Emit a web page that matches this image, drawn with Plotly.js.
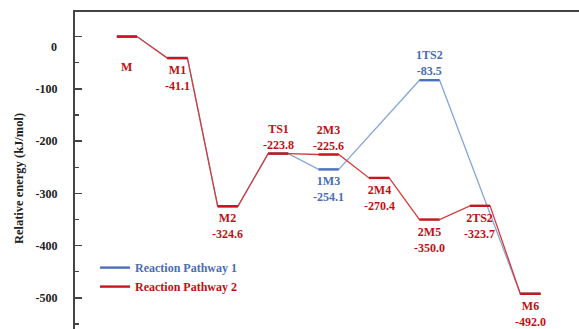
<!DOCTYPE html>
<html>
<head>
<meta charset="utf-8">
<script src="https://cdn.plot.ly/plotly-3.0.1.min.js"></script>
<style>
  html, body { margin: 0; padding: 0; overflow: hidden; background: #fff; }
  #chart { width: 640px; height: 375px; }
</style>
</head>
<body>
<div id="chart"></div>
<script>
// Energy profile of the two reaction pathways (kJ/mol)
const path1Names  = ['M', 'M1', 'M2', 'TS1', '1M3', '1TS2', 'M6'];
const path1Steps  = [0, 1, 2, 3, 4, 6, 8];
const path1Energy = [0, -41.1, -324.6, -223.8, -254.1, -83.5, -492.0];

const path2Names  = ['M', 'M1', 'M2', 'TS1', '2M3', '2M4', '2M5', '2TS2', 'M6'];
const path2Steps  = [0, 1, 2, 3, 4, 5, 6, 7, 8];
const path2Energy = [0, -41.1, -324.6, -223.8, -225.6, -270.4, -350.0, -323.7, -492.0];

const seriesNames = ['Reaction Pathway 1', 'Reaction Pathway 2'];
const yTicks = [0, -100, -200, -300, -400, -500];

// which species get a text label, and where it sits relative to the level
const path1Labels = { '1M3': 'below', '1TS2': 'above' };
const path2Labels = { 'M': 'below', 'M1': 'below', 'M2': 'below', 'TS1': 'above',
                      '2M3': 'above', '2M4': 'below', '2M5': 'below', '2TS2': 'below', 'M6': 'below' };

const HALF = 0.2;              // half width of an energy level
const FONT = 'Liberation Serif, Times New Roman, serif';
const RED = '#c8161c', RED_TEXT = '#c00f14', RED_LINK = '#d43a3a';
const BLUE = '#4a70bf', BLUE_TEXT = '#4a6cb6', BLUE_LINK = '#86a6d6';

function links(steps, energy) {
  const x = [], y = [];
  steps.forEach((s, i) => { x.push(s - HALF, s + HALF); y.push(energy[i], energy[i]); });
  return { x, y };
}
function levels(steps, energy) {
  const x = [], y = [];
  steps.forEach((s, i) => { x.push(s - HALF, s + HALF, null); y.push(energy[i], energy[i], null); });
  return { x, y };
}

const l1 = links(path1Steps, path1Energy), v1 = levels(path1Steps, path1Energy);
const l2 = links(path2Steps, path2Energy), v2 = levels(path2Steps, path2Energy);

const traces = [
  { x: l1.x, y: l1.y, mode: 'lines', line: { color: BLUE_LINK, width: 1.3 },
    legendgroup: 'p1', showlegend: false, hoverinfo: 'skip' },
  { x: v1.x, y: v1.y, mode: 'lines', line: { color: BLUE, width: 2.4 },
    legendgroup: 'p1', connectgaps: false,
    name: '<span style="color:' + BLUE_TEXT + '">' + seriesNames[0] + '</span>' },
  { x: l2.x, y: l2.y, mode: 'lines', line: { color: RED_LINK, width: 1.3 },
    legendgroup: 'p2', showlegend: false, hoverinfo: 'skip' },
  { x: v2.x, y: v2.y, mode: 'lines', line: { color: RED, width: 2.4 },
    legendgroup: 'p2', connectgaps: false,
    name: '<span style="color:' + RED_TEXT + '">' + seriesNames[1] + '</span>' }
];

const annotations = [];
function addLabels(names, steps, energy, placement, color) {
  names.forEach((n, i) => {
    const side = placement[n];
    if (!side) return;
    const text = energy[i] === 0 ? n : n + '<br>' + energy[i].toFixed(1);
    annotations.push({
      x: steps[i], y: energy[i], xref: 'x', yref: 'y', text: text,
      showarrow: false, xanchor: 'center',
      yanchor: side === 'above' ? 'bottom' : 'top',
      yshift: side === 'above' ? 0 : (energy[i] === 0 ? -21 : -3),
      font: { family: FONT, size: 12, color: color, weight: 'bold' }
    });
  });
}
addLabels(path1Names, path1Steps, path1Energy, path1Labels, BLUE_TEXT);
addLabels(path2Names, path2Steps, path2Energy, path2Labels, RED_TEXT);

// the zero tick label sits a little below its tick
annotations.push({
  x: 0, y: 0, xref: 'paper', yref: 'y', text: String(yTicks[0]), showarrow: false,
  xanchor: 'right', yanchor: 'middle', xshift: -16, yshift: -10,
  font: { family: FONT, size: 12, color: '#222', weight: 'bold' }
});

const layout = {
  width: 640, height: 375,
  margin: { l: 75, r: 39, t: 12, b: 30 },
  paper_bgcolor: '#fff', plot_bgcolor: '#fff',
  font: { family: FONT, size: 12, color: '#222', weight: 'bold' },
  showlegend: true,
  legend: {
    x: 0.038, y: 0.276, xanchor: 'left', yanchor: 'top',
    bgcolor: 'rgba(0,0,0,0)', borderwidth: 0,
    font: { family: FONT, size: 12, weight: 'bold' },
    tracegroupgap: 0
  },
  xaxis: {
    range: [-1.03, 9.4], showgrid: false, zeroline: false,
    showticklabels: false, ticks: '',
    showline: true, mirror: true, linecolor: '#444', linewidth: 2
  },
  yaxis: {
    range: [-590, 47], showgrid: false, zeroline: false,
    tickvals: yTicks, ticktext: yTicks.map(v => v === 0 ? '' : String(v)),
    ticks: 'inside', ticklen: 7, tickwidth: 1.5, tickcolor: '#444',
    ticklabelstandoff: 13,
    minor: { dtick: 50, ticks: 'inside', ticklen: 4, tickwidth: 1.2, tickcolor: '#444' },
    tickfont: { family: FONT, size: 12, color: '#222', weight: 'bold' },
    showline: true, mirror: true, linecolor: '#444', linewidth: 2,
    title: { text: 'Relative energy (kJ/mol)', standoff: 9,
             font: { family: FONT, size: 12.5, color: '#222', weight: 'bold' } }
  },
  annotations: annotations
};

Plotly.newPlot('chart', traces, layout, { staticPlot: true, displayModeBar: false });
</script>
</body>
</html>
